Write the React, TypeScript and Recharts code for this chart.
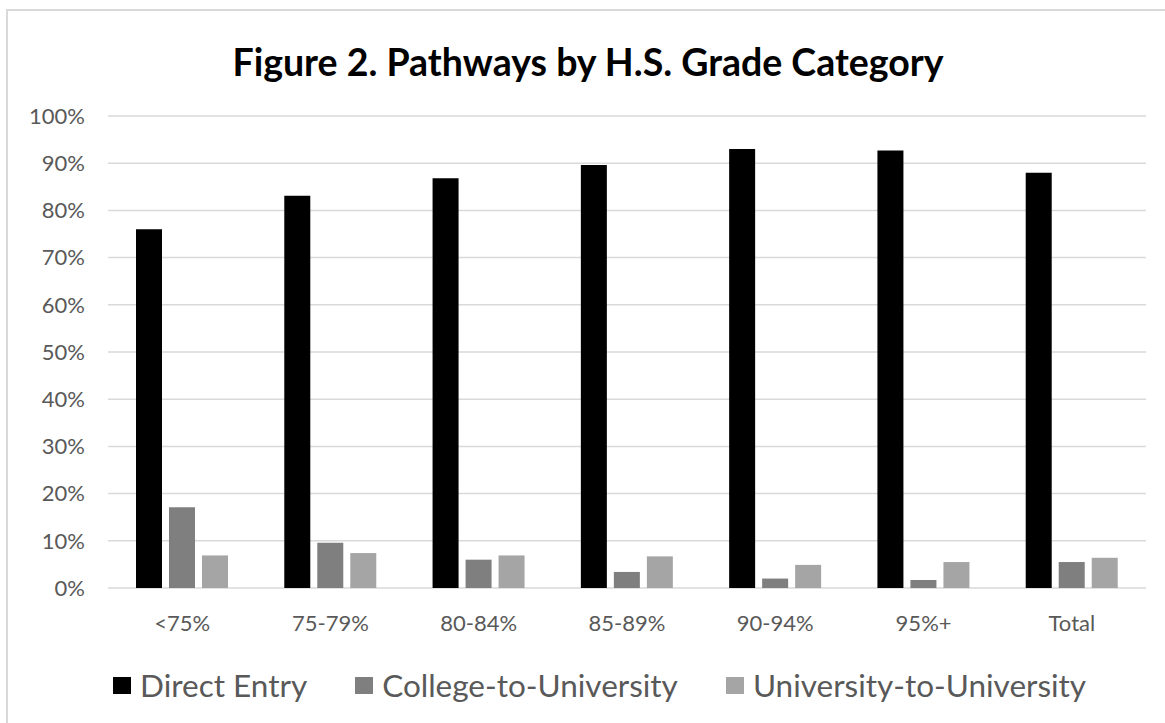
import { BarChart, Bar, XAxis, YAxis, CartesianGrid, Legend } from 'recharts';

const categories = ['<75%', '75-79%', '80-84%', '85-89%', '90-94%', '95%+', 'Total'];
const directEntry = [76.0, 83.1, 86.8, 89.6, 93.0, 92.7, 88.0];
const collegeToUniversity = [17.1, 9.6, 6.0, 3.4, 2.0, 1.7, 5.5];
const universityToUniversity = [6.9, 7.4, 6.9, 6.7, 4.9, 5.5, 6.4];
const yTicks = [0, 10, 20, 30, 40, 50, 60, 70, 80, 90, 100];

const seriesInfo = [
  { key: 'direct', name: 'Direct Entry', color: '#000000' },
  { key: 'college', name: 'College-to-University', color: '#7f7f7f' },
  { key: 'university', name: 'University-to-University', color: '#a5a5a5' },
];

const rows = categories.map((cat, i) => ({
  cat,
  direct: directEntry[i],
  college: collegeToUniversity[i],
  university: universityToUniversity[i],
}));

const FONT = 'Lato, "Open Sans", sans-serif';
const LABEL_GRAY = '#595959';

function LegendRow() {
  return (
    <div
      style={{
        height: 60,
        display: 'flex',
        alignItems: 'center',
        paddingLeft: 113,
        fontFamily: FONT,
        fontSize: 31.5,
        color: LABEL_GRAY,
      }}
    >
      {seriesInfo.map((s, i) => (
        <div
          key={s.key}
          style={{ display: 'flex', alignItems: 'center', marginLeft: i === 0 ? 0 : 48 }}
        >
          <span style={{ width: 18, height: 17, background: s.color, marginRight: 9, display: 'inline-block' }} />
          <span>{s.name}</span>
        </div>
      ))}
    </div>
  );
}

export default function App() {
  return (
    <div
      style={{
        position: 'absolute',
        left: 0,
        top: 0,
        width: 1165,
        height: 723,
        overflow: 'hidden',
        background: '#ffffff',
      }}
    >
      {/* chart frame, runs off the right and bottom edges */}
      <div
        style={{
          position: 'absolute',
          left: 6,
          top: 9,
          width: 1200,
          height: 800,
          borderTop: '2px solid #d9d9d9',
          borderLeft: '2px solid #d9d9d9',
        }}
      />
      <div
        style={{
          position: 'absolute',
          left: 0,
          top: 41,
          width: 1176,
          height: 42,
          lineHeight: '42px',
          textAlign: 'center',
          fontFamily: FONT,
          fontWeight: 700,
          fontSize: 37.5,
          color: '#000000',
        }}
      >
        Figure 2. Pathways by H.S. Grade Category
      </div>
      <div style={{ position: 'absolute', left: 0, top: 0 }}>
        <BarChart
          width={1165}
          height={723}
          data={rows}
          margin={{ top: 116, right: 19, left: 0, bottom: 8 }}
          barSize={26}
          barGap={7}
        >
          <CartesianGrid vertical={false} stroke="#d9d9d9" strokeWidth={1.5} />
          <XAxis
            dataKey="cat"
            axisLine={false}
            tickLine={false}
            tickSize={0}
            tickMargin={27}
            height={67}
            tick={{ fill: LABEL_GRAY, fontSize: 22, fontFamily: FONT }}
          />
          <YAxis
            domain={[0, 100]}
            ticks={yTicks}
            tickFormatter={(v) => `${v}%`}
            axisLine={false}
            tickLine={false}
            tickSize={0}
            tickMargin={23}
            width={108}
            tick={{ fill: LABEL_GRAY, fontSize: 22, fontFamily: FONT }}
          />
          <Legend
            verticalAlign="bottom"
            content={() => <LegendRow />}
            wrapperStyle={{ left: 0, width: 1165 }}
          />
          {seriesInfo.map((s) => (
            <Bar key={s.key} dataKey={s.key} name={s.name} fill={s.color} isAnimationActive={false} />
          ))}
        </BarChart>
      </div>
    </div>
  );
}
